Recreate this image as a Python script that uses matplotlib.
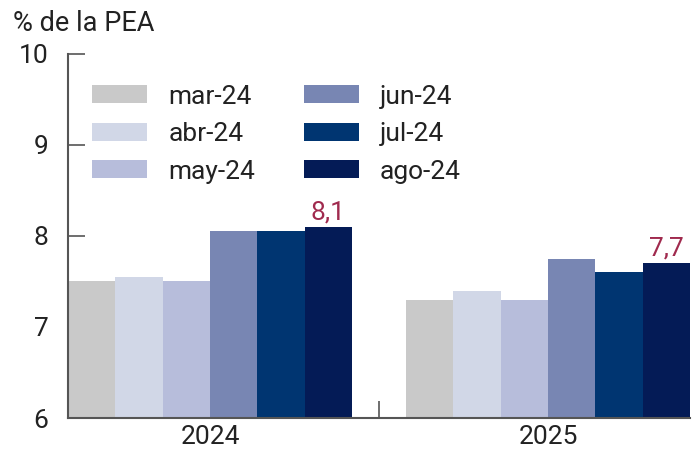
import numpy as np
import matplotlib as mpl
mpl.use('Agg')
import matplotlib.pyplot as plt

plt.rcParams['font.family'] = ['Roboto', 'DejaVu Sans']

years = ['2024', '2025']
months = ['mar-24', 'abr-24', 'may-24', 'jun-24', 'jul-24', 'ago-24']
values = {
    'mar-24': [7.5, 7.3],
    'abr-24': [7.55, 7.4],
    'may-24': [7.5, 7.3],
    'jun-24': [8.05, 7.75],
    'jul-24': [8.05, 7.6],
    'ago-24': [8.1, 7.7],
}
colors = ['#c9c9c9', '#d1d7e7', '#b7bddb', '#7886b3', '#003571', '#041b56']
label_color = '#a02a4e'
axis_color = '#555555'
txt_color = '#222222'

fig = plt.figure(figsize=(6.99, 4.5), dpi=100)
ax = fig.add_axes([0.0973, 0.0711, 0.89, 0.809])

x = np.arange(len(years))
w = 0.14
for i, m in enumerate(months):
    pos = x + (i - 2.5) * w
    bars = ax.bar(pos, values[m], w, bottom=0, color=colors[i], label=m, zorder=2)
    if m == 'ago-24':
        for b, v in zip(bars, values[m]):
            ax.text(b.get_x() + b.get_width() / 2, v + 0.03, f'{v:.1f}'.replace('.', ','),
                    ha='center', va='bottom', fontsize=19, color=label_color)

ax.set_ylim(6, 10)
ax.set_xlim(-0.42, 1.42)
ax.set_yticks([6, 7, 8, 9, 10])
ax.set_xticks(x)
ax.set_xticklabels(years, fontsize=19, color=txt_color)
ax.tick_params(axis='x', length=0, pad=5)
ax.set_xticks([0.5], minor=True)
ax.tick_params(axis='x', which='minor', direction='in', length=12, width=1.2, color=axis_color)
ax.tick_params(axis='y', direction='in', length=12, width=1.2, color=axis_color,
               labelsize=19, labelcolor=txt_color, pad=14)

for s in ['top', 'right']:
    ax.spines[s].set_visible(False)
for s in ['left', 'bottom']:
    ax.spines[s].set_color(axis_color)
    ax.spines[s].set_linewidth(1.5)

fig.text(0.018, 0.948, '% de la PEA', fontsize=19.5, color=txt_color, va='center', ha='left')

ax.legend(loc='upper left', bbox_to_anchor=(0.0006, 0.981), ncol=2, frameon=False,
          fontsize=19, handlelength=2.08, handleheight=0.68, handletextpad=0.8,
          columnspacing=1.86, labelspacing=0.51, labelcolor=txt_color)

fig.savefig('out.png', dpi=100)
